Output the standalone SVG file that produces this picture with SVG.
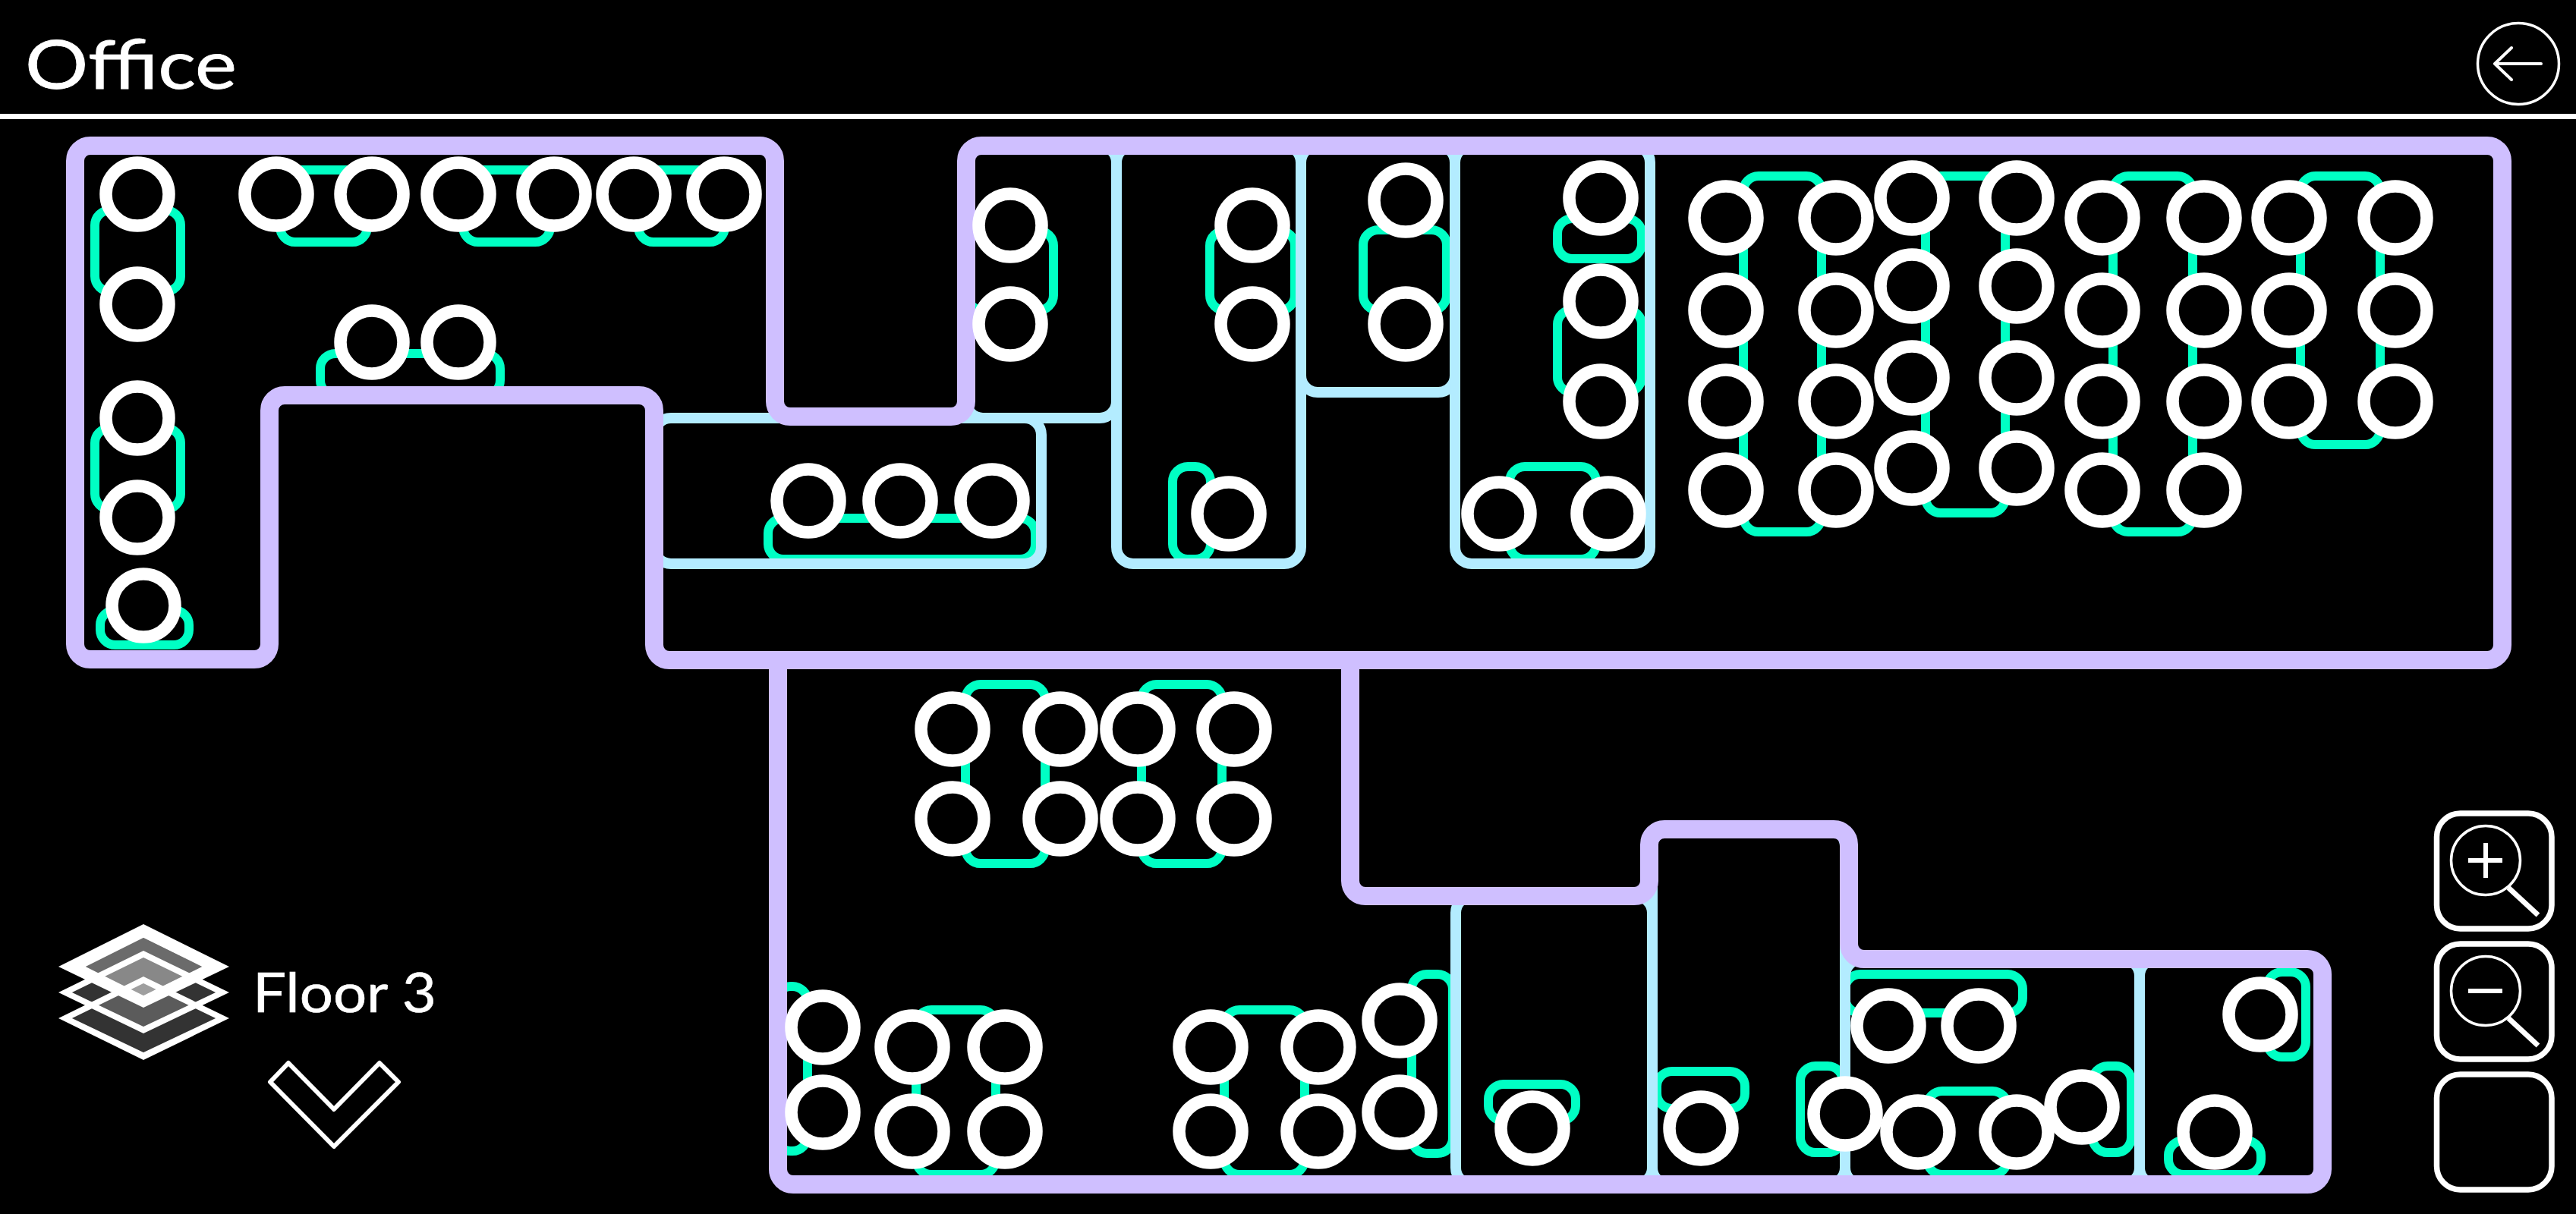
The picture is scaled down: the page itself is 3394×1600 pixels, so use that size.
<svg xmlns="http://www.w3.org/2000/svg" width="3394" height="1600" viewBox="0 0 3394 1600">
<style>
.bg{fill:#000}
.d{fill:none;stroke:#00ffc4;stroke-width:12}
.r{fill:none;stroke:#b3ecff;stroke-width:14}
.w{fill:none;stroke:#cfbfff;stroke-width:24}
.c{fill:#000;stroke:#fff;stroke-width:16.5}
.l{fill:none;stroke:#fff;stroke-linecap:round;stroke-linejoin:round}
.t{fill:#fff;stroke:#fff;font-family:"Lato","Liberation Sans",sans-serif}
.ring{fill:#fff;fill-rule:evenodd}
</style>
<rect class="bg" width="3394" height="1600"/>
<g id="header">
<text class="t" x="33" y="117" font-size="90" stroke-width="0.8" textLength="279" lengthAdjust="spacingAndGlyphs">Office</text>
<rect x="0" y="150" width="3394" height="7" fill="#fff"/>
</g>
<g id="back-button">
<circle class="l" cx="3318" cy="84" r="53.5" stroke-width="3.5"/>
<path class="l" stroke-width="4" d="M3348,84H3287M3309,63L3287,84L3309,105"/>
</g>
<g id="desks" fill="none">
<rect class="d" x="125" y="277" width="113" height="107" rx="20"/>
<rect class="d" x="369" y="224" width="115" height="95" rx="20"/>
<rect class="d" x="610" y="224" width="115" height="95" rx="20"/>
<rect class="d" x="841" y="224" width="114" height="95" rx="20"/>
<rect class="d" x="422" y="466" width="237" height="55" rx="20"/>
<rect class="d" x="125" y="564" width="113" height="107" rx="20"/>
<rect class="d" x="132" y="804" width="117" height="46" rx="20"/>
<rect class="d" x="1012" y="683" width="352" height="54" rx="20"/>
<rect class="d" x="1275" y="304" width="113" height="105" rx="20"/>
<rect class="d" x="1594" y="304" width="112" height="105" rx="20"/>
<rect class="d" x="1796" y="303" width="110" height="106" rx="20"/>
<rect class="d" x="2052" y="288" width="111" height="53" rx="20"/>
<rect class="d" x="2052" y="408" width="111" height="109" rx="20"/>
<rect class="d" x="1545" y="615" width="50" height="122" rx="20"/>
<rect class="d" x="1989" y="615" width="114" height="122" rx="20"/>
<rect class="d" x="2297" y="232" width="103" height="469" rx="20"/>
<rect class="d" x="2537" y="232" width="105" height="444" rx="20"/>
<rect class="d" x="2784" y="232" width="105" height="469" rx="20"/>
<rect class="d" x="3031" y="232" width="105" height="354" rx="20"/>
<rect class="d" x="1272" y="902" width="105" height="236" rx="20"/>
<rect class="d" x="1504" y="902" width="106" height="236" rx="20"/>
<rect class="d" x="1022" y="1300" width="42" height="217" rx="20"/>
<rect class="d" x="1207" y="1331" width="105" height="217" rx="20"/>
<rect class="d" x="1613" y="1331" width="106" height="217" rx="20"/>
<rect class="d" x="1860" y="1284" width="54" height="236" rx="20"/>
<rect class="d" x="1961" y="1429" width="115" height="48" rx="20"/>
<rect class="d" x="2183" y="1412" width="116" height="49" rx="20"/>
<rect class="d" x="2372" y="1405" width="56" height="114" rx="20"/>
<rect class="d" x="2431" y="1284" width="234" height="51" rx="20"/>
<rect class="d" x="2539" y="1438" width="106" height="110" rx="20"/>
<rect class="d" x="2757" y="1405" width="51" height="114" rx="20"/>
<rect class="d" x="2987" y="1281" width="51" height="112" rx="20"/>
<rect class="d" x="2857" y="1503" width="122" height="45" rx="20"/>
</g>
<g id="rooms">
<rect class="r" x="1273" y="192" width="198" height="359" rx="22"/>
<rect class="r" x="862" y="551" width="510" height="192" rx="22"/>
<rect class="r" x="1471" y="192" width="243" height="551" rx="22"/>
<rect class="r" x="1714" y="192" width="203" height="325" rx="22"/>
<rect class="r" x="1917" y="192" width="257" height="551" rx="22"/>
<rect class="r" x="1918" y="1181" width="259" height="380" rx="22"/>
<rect class="r" x="2177" y="1093" width="254" height="468" rx="22"/>
<rect class="r" x="2431" y="1264" width="388" height="297" rx="22"/>
<rect class="r" x="2819" y="1264" width="241" height="297" rx="22"/>
</g>
<g id="walls">
<path class="w" d="M119,192H1001A20,20 0 0 1 1021,212V529A20,20 0 0 0 1041,549H1253A20,20 0 0 0 1273,529V212A20,20 0 0 1 1293,192H3277A20,20 0 0 1 3297,212V850A20,20 0 0 1 3277,870H882A20,20 0 0 1 862,850V541A20,20 0 0 0 842,521H375A20,20 0 0 0 355,541V849A20,20 0 0 1 335,869H119A20,20 0 0 1 99,849V212A20,20 0 0 1 119,192Z"/>
<path class="w" d="M1025,870V1541A20,20 0 0 0 1045,1561H3040A20,20 0 0 0 3060,1541V1284A20,20 0 0 0 3040,1264H2456A20,20 0 0 1 2436,1244V1113A20,20 0 0 0 2416,1093H2193A20,20 0 0 0 2173,1113V1161A20,20 0 0 1 2153,1181H1799A20,20 0 0 1 1779,1161V870"/>
</g>
<g id="seats">
<circle class="c" cx="181" cy="256" r="41.5"/><circle class="c" cx="181" cy="401" r="41.5"/>
<circle class="c" cx="181" cy="551" r="41.5"/><circle class="c" cx="181" cy="682" r="41.5"/>
<circle class="c" cx="189" cy="798" r="41.5"/>
<circle class="c" cx="364" cy="256" r="41.5"/><circle class="c" cx="490" cy="256" r="41.5"/>
<circle class="c" cx="604" cy="256" r="41.5"/><circle class="c" cx="730" cy="256" r="41.5"/>
<circle class="c" cx="835" cy="256" r="41.5"/><circle class="c" cx="954" cy="256" r="41.5"/>
<circle class="c" cx="490" cy="451" r="41.5"/><circle class="c" cx="604" cy="451" r="41.5"/>
<circle class="c" cx="1065" cy="660" r="41.5"/><circle class="c" cx="1186" cy="660" r="41.5"/><circle class="c" cx="1307" cy="660" r="41.5"/>
<circle class="c" cx="1331" cy="297" r="41.5"/><circle class="c" cx="1331" cy="427" r="41.5"/>
<circle class="c" cx="1650" cy="297" r="41.5"/><circle class="c" cx="1650" cy="427" r="41.5"/>
<circle class="c" cx="1852" cy="264" r="41.5"/><circle class="c" cx="1852" cy="427" r="41.5"/>
<circle class="c" cx="2109" cy="261" r="41.5"/><circle class="c" cx="2109" cy="397" r="41.5"/><circle class="c" cx="2109" cy="529" r="41.5"/>
<circle class="c" cx="1619" cy="677" r="41.5"/><circle class="c" cx="1975" cy="677" r="41.5"/><circle class="c" cx="2119" cy="677" r="41.5"/>
<circle class="c" cx="2274" cy="287" r="41.5"/><circle class="c" cx="2274" cy="409" r="41.5"/><circle class="c" cx="2274" cy="529" r="41.5"/><circle class="c" cx="2274" cy="646" r="41.5"/>
<circle class="c" cx="2419" cy="287" r="41.5"/><circle class="c" cx="2419" cy="409" r="41.5"/><circle class="c" cx="2419" cy="529" r="41.5"/><circle class="c" cx="2419" cy="646" r="41.5"/>
<circle class="c" cx="2519" cy="261" r="41.5"/><circle class="c" cx="2519" cy="377" r="41.5"/><circle class="c" cx="2519" cy="498" r="41.5"/><circle class="c" cx="2519" cy="617" r="41.5"/>
<circle class="c" cx="2657" cy="261" r="41.5"/><circle class="c" cx="2657" cy="377" r="41.5"/><circle class="c" cx="2657" cy="498" r="41.5"/><circle class="c" cx="2657" cy="617" r="41.5"/>
<circle class="c" cx="2770" cy="287" r="41.5"/><circle class="c" cx="2770" cy="409" r="41.5"/><circle class="c" cx="2770" cy="529" r="41.5"/><circle class="c" cx="2770" cy="646" r="41.5"/>
<circle class="c" cx="2904" cy="287" r="41.5"/><circle class="c" cx="2904" cy="409" r="41.5"/><circle class="c" cx="2904" cy="529" r="41.5"/><circle class="c" cx="2904" cy="646" r="41.5"/>
<circle class="c" cx="3016" cy="287" r="41.5"/><circle class="c" cx="3016" cy="409" r="41.5"/><circle class="c" cx="3016" cy="529" r="41.5"/>
<circle class="c" cx="3156" cy="287" r="41.5"/><circle class="c" cx="3156" cy="409" r="41.5"/><circle class="c" cx="3156" cy="529" r="41.5"/>
<circle class="c" cx="1255" cy="961" r="41.5"/><circle class="c" cx="1397" cy="961" r="41.5"/><circle class="c" cx="1499" cy="961" r="41.5"/><circle class="c" cx="1626" cy="961" r="41.5"/>
<circle class="c" cx="1255" cy="1079" r="41.5"/><circle class="c" cx="1397" cy="1079" r="41.5"/><circle class="c" cx="1499" cy="1079" r="41.5"/><circle class="c" cx="1626" cy="1079" r="41.5"/>
<circle class="c" cx="1084" cy="1354" r="41.5"/><circle class="c" cx="1084" cy="1466" r="41.5"/>
<circle class="c" cx="1202" cy="1380" r="41.5"/><circle class="c" cx="1324" cy="1380" r="41.5"/><circle class="c" cx="1202" cy="1491" r="41.5"/><circle class="c" cx="1324" cy="1491" r="41.5"/>
<circle class="c" cx="1595" cy="1380" r="41.5"/><circle class="c" cx="1737" cy="1380" r="41.5"/><circle class="c" cx="1595" cy="1491" r="41.5"/><circle class="c" cx="1737" cy="1491" r="41.5"/>
<circle class="c" cx="1844" cy="1345" r="41.5"/><circle class="c" cx="1844" cy="1466" r="41.5"/>
<circle class="c" cx="2019" cy="1487" r="41.5"/><circle class="c" cx="2241" cy="1487" r="41.5"/><circle class="c" cx="2431" cy="1468" r="41.5"/>
<circle class="c" cx="2527" cy="1492" r="41.5"/><circle class="c" cx="2657" cy="1492" r="41.5"/><circle class="c" cx="2743" cy="1459" r="41.5"/>
<circle class="c" cx="2488" cy="1352" r="41.5"/><circle class="c" cx="2607" cy="1352" r="41.5"/>
<circle class="c" cx="2978" cy="1337" r="41.5"/><circle class="c" cx="2918" cy="1492" r="41.5"/>
</g>
<g id="floor-selector">
<g id="layers">
<path d="M95,1342L189,1296L284,1342L189,1387Z" fill="#333"/>
<path class="ring" d="M77,1342L189,1287L302,1342L189,1397ZM95,1342L189,1387L284,1342L189,1296Z"/>
<path d="M95,1308L189,1262L284,1308L189,1353Z" fill="#fff" fill-opacity="0.2"/>
<path class="ring" d="M77,1308L189,1253L302,1308L189,1362ZM95,1308L189,1353L284,1308L189,1262Z"/>
<path d="M113,1274L189,1236L266,1274L189,1312Z" fill="#fff" fill-opacity="0.42"/>
<path class="ring" d="M77,1274L189,1218L302,1274L189,1328ZM113,1274L189,1312L266,1274L189,1236Z"/>
</g>
<text class="t" x="333" y="1334" font-size="71" stroke-width="0.6" textLength="242" lengthAdjust="spacingAndGlyphs">Floor 3</text>
<path id="chevron" class="l" stroke-width="6" d="M380,1401L356,1426L440,1511L525,1426L500,1401L440,1462Z"/>
</g>
<g id="zoom-in">
<rect class="l" x="3210.500" y="1072" width="151.500" height="152" rx="31" stroke-width="7.500"/>
<circle class="l" cx="3275" cy="1134" r="45.500" stroke-width="3.500"/>
<path class="l" stroke-width="6" style="stroke-linecap:butt" d="M3252,1134H3297M3275,1111V1157"/>
<path class="l" stroke-width="7" style="stroke-linecap:butt" d="M3305,1170L3344,1206"/>
</g>
<g id="zoom-out">
<rect class="l" x="3210.500" y="1244" width="151.500" height="152" rx="31" stroke-width="7.500"/>
<circle class="l" cx="3275" cy="1306" r="45.500" stroke-width="3.500"/>
<path class="l" stroke-width="6" style="stroke-linecap:butt" d="M3252,1306H3297"/>
<path class="l" stroke-width="7" style="stroke-linecap:butt" d="M3305,1342L3344,1378"/>
</g>
<g id="blank-button">
<rect class="l" x="3210.500" y="1416" width="151.500" height="152" rx="31" stroke-width="7.500"/>
</g>
</svg>
